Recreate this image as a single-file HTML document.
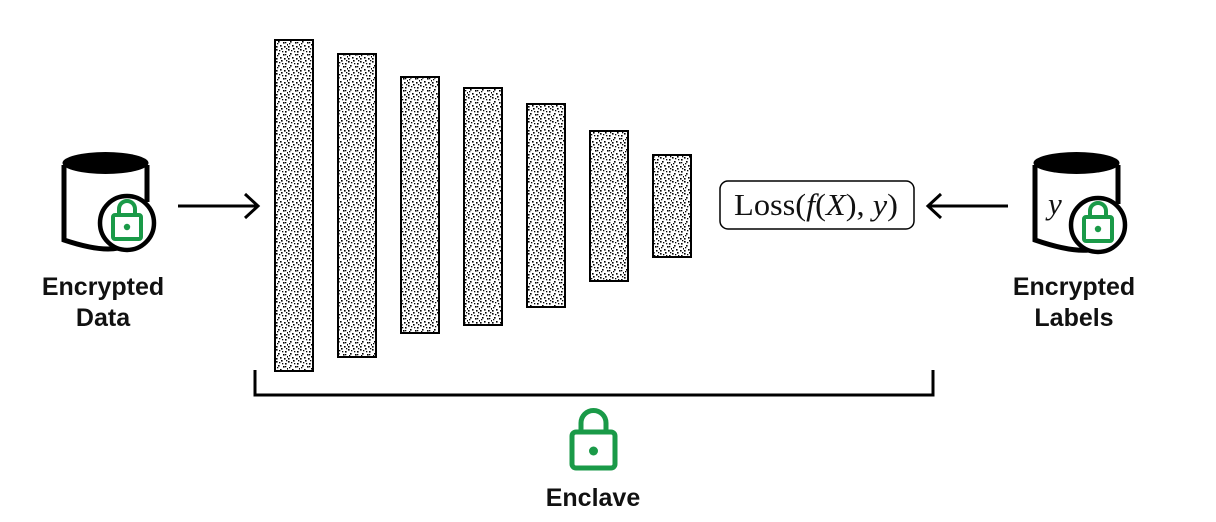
<!DOCTYPE html>
<html><head><meta charset="utf-8"><style>
html,body{margin:0;padding:0;background:#fff;}
svg{display:block;}
.lbl{font-family:"Liberation Sans",sans-serif;font-weight:bold;font-size:25px;fill:#111;text-anchor:middle;}
.math{font-family:"Liberation Serif",serif;font-size:31px;fill:#111;}
</style></head><body>
<svg id="d" width="1216" height="522" viewBox="0 0 1216 522">
<defs>
<pattern id="stip" width="12" height="12" patternUnits="userSpaceOnUse">
<rect width="12" height="12" fill="#fff"/>
<rect x="0" y="1" width="1.6" height="1.6" fill="#000"/><rect x="5" y="0" width="1.6" height="1.6" fill="#000"/>
<rect x="9" y="3" width="1.6" height="1.6" fill="#000"/><rect x="2" y="5" width="1.6" height="1.6" fill="#000"/>
<rect x="7" y="6" width="1.6" height="1.6" fill="#000"/><rect x="11" y="8" width="1.6" height="1.6" fill="#000"/>
<rect x="4" y="9" width="1.6" height="1.6" fill="#000"/><rect x="0" y="10" width="1.6" height="1.6" fill="#000"/>
<rect x="8" y="10" width="1.6" height="1.6" fill="#000"/><rect x="3" y="2" width="1.3" height="1.3" fill="#000"/>
<rect x="10" y="0" width="1.3" height="1.3" fill="#000"/><rect x="6" y="3" width="1.3" height="1.3" fill="#000"/>
<rect x="1" y="7" width="1.3" height="1.3" fill="#000"/><rect x="9" y="6" width="1.3" height="1.3" fill="#000"/>
</pattern>
</defs>
<g id="layers"></g>

<!-- left database -->
<g>
<path d="M64,165 V240 Q100,252 118,248" fill="none" stroke="#000" stroke-width="5"/>
<path d="M147,165 V202" fill="none" stroke="#000" stroke-width="5"/>
<ellipse cx="105.5" cy="163" rx="43" ry="11" fill="#000"/>
<circle cx="127" cy="223" r="27" fill="#fff" stroke="#000" stroke-width="4.5"/>
<rect x="113" y="215" width="28" height="24" rx="2" fill="none" stroke="#1a9a48" stroke-width="4"/>
<path d="M119,215 v-6 a8,8 0 0 1 16,0 v6" fill="none" stroke="#1a9a48" stroke-width="4"/>
<circle cx="127" cy="227" r="3.2" fill="#1a9a48"/>
</g>
<text class="lbl" x="103" y="295">Encrypted</text>
<text class="lbl" x="103" y="326">Data</text>

<g stroke="#000" stroke-width="3" fill="none">
<line x1="178" y1="206" x2="257" y2="206"/><path d="M245,194 L258,206 L245,218"/>
</g>

<g>
<rect x="720" y="181" width="194" height="48" rx="8" fill="#fff" stroke="#000" stroke-width="1.5"/>
<text class="math" x="734" y="215" textLength="164" lengthAdjust="spacingAndGlyphs">Loss(<tspan font-style="italic">f</tspan>(<tspan font-style="italic">X</tspan>), <tspan font-style="italic">y</tspan>)</text>
</g>

<g stroke="#000" stroke-width="3" fill="none">
<line x1="929" y1="206" x2="1008" y2="206"/><path d="M941,194 L928,206 L941,218"/>
</g>

<g>
<path d="M1035,165 V240 Q1070,252 1089,250" fill="none" stroke="#000" stroke-width="5"/>
<path d="M1118,165 V204" fill="none" stroke="#000" stroke-width="5"/>
<ellipse cx="1076.5" cy="163" rx="43" ry="11" fill="#000"/>
<text class="math" x="1048" y="214" font-style="italic" font-size="34">y</text>
<circle cx="1098" cy="225" r="27" fill="#fff" stroke="#000" stroke-width="4.5"/>
<rect x="1084" y="217" width="28" height="24" rx="2" fill="none" stroke="#1a9a48" stroke-width="4"/>
<path d="M1090,217 v-6 a8,8 0 0 1 16,0 v6" fill="none" stroke="#1a9a48" stroke-width="4"/>
<circle cx="1098" cy="229" r="3.2" fill="#1a9a48"/>
</g>
<text class="lbl" x="1074" y="295">Encrypted</text>
<text class="lbl" x="1074" y="326">Labels</text>

<path d="M255,370 V395 H933 V370" fill="none" stroke="#000" stroke-width="3"/>

<g>
<rect x="572" y="432" width="43" height="36" rx="4" fill="none" stroke="#1a9a48" stroke-width="5"/>
<path d="M581,432 v-9 a12.5,12.5 0 0 1 25,0 v9" fill="none" stroke="#1a9a48" stroke-width="5"/>
<circle cx="593.5" cy="451" r="4.5" fill="#1a9a48"/>
</g>
<text class="lbl" x="593" y="506">Enclave</text>
</svg>
<script>
const layerTops=[40,54,77,88,104,131,155];
const layerBottoms=[371,357,333,325,307,281,257];
const g=document.getElementById('layers');
layerTops.forEach(function(t,i){
  const r=document.createElementNS('http://www.w3.org/2000/svg','rect');
  r.setAttribute('x',275+i*63);r.setAttribute('y',t);
  r.setAttribute('width',38);r.setAttribute('height',layerBottoms[i]-t);
  r.setAttribute('fill','url(#stip)');r.setAttribute('stroke','#000');r.setAttribute('stroke-width','2');
  
  
  g.appendChild(r);
});
</script>
</body></html>
